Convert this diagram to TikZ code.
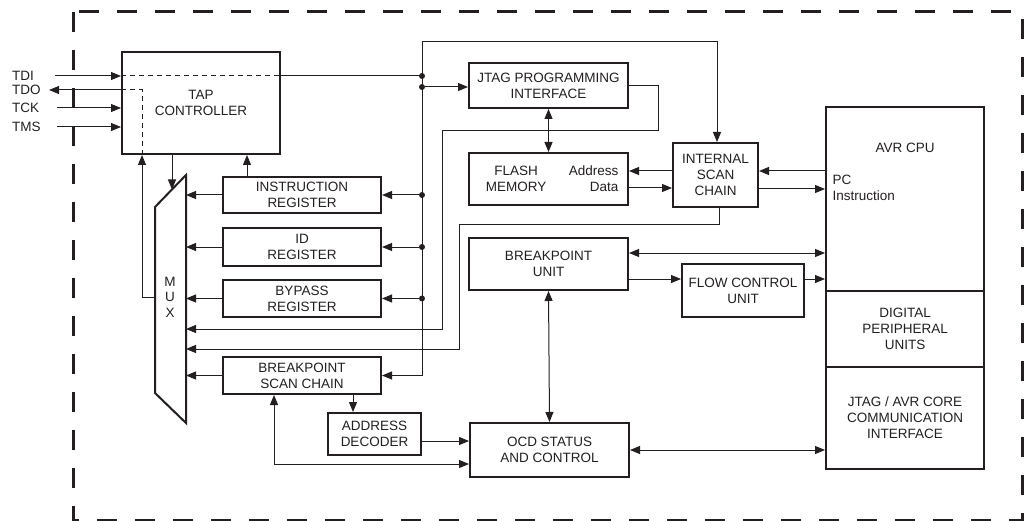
\documentclass[tikz,border=0pt]{standalone}
\usepackage{fontspec}
\setmainfont{Liberation Sans}
\usepackage{tikz}
\usetikzlibrary{arrows.meta,calc}
\usepackage{xcolor}
\definecolor{ink}{HTML}{231F20}

\begin{document}
\begin{tikzpicture}[x=1pt, y=1pt, color=ink, font=\fontsize{13.5}{16}\selectfont,
  blockbox/.style={draw=ink, line width=2pt, align=center, inner sep=0pt},
  wire/.style={draw=ink, line width=1pt},
  arrowend/.style={-{Triangle[length=10pt,width=8pt]}},
  arrowboth/.style={{Triangle[length=10pt,width=8pt]}-{Triangle[length=10pt,width=8pt]}},
  junction/.style={circle, fill=ink, inner sep=0pt, minimum size=6pt},
  pinlabel/.style={anchor=west, inner sep=0pt}]
  \useasboundingbox (0,0) rectangle (1024,-521);
  \draw[line width=3pt, dash pattern=on 20pt off 18pt] (73,-12) rectangle (1022,-520);

  \node[blockbox, minimum width=158, minimum height=102] (tap) at (201,-103) {TAP\\CONTROLLER};
  \node[blockbox, minimum width=158, minimum height=36] (ireg) at (302,-195) {INSTRUCTION\\REGISTER};
  \node[blockbox, minimum width=158, minimum height=38] (idreg) at (302,-247) {ID\\REGISTER};
  \node[blockbox, minimum width=158, minimum height=37] (bypass) at (302,-298.5) {BYPASS\\REGISTER};
  \node[blockbox, minimum width=158, minimum height=37] (bpscan) at (302,-375.5) {BREAKPOINT\\SCAN CHAIN};
  \node[blockbox, minimum width=93, minimum height=42] (addrdec) at (374.5,-434) {ADDRESS\\DECODER};
  \node[blockbox, minimum width=159, minimum height=45] (jtagprog) at (548.5,-85.5) {JTAG PROGRAMMING\\INTERFACE};
  \node[blockbox, minimum width=159, minimum height=52] (flash) at (548.5,-179) {};
  \node[align=center] (flashname) at (516,-179) {FLASH\\MEMORY};
  \node[align=right, anchor=east] (flashport) at (622,-179) {Address\\Data};
  \node[blockbox, minimum width=85, minimum height=64] (intscan) at (715.5,-175) {INTERNAL\\SCAN\\CHAIN};
  \node[blockbox, minimum width=159, minimum height=52] (bpunit) at (548.5,-264) {BREAKPOINT\\UNIT};
  \node[blockbox, minimum width=122, minimum height=53] (flowctl) at (743,-290.5) {FLOW CONTROL\\UNIT};
  \node[blockbox, minimum width=159, minimum height=54] (ocd) at (549.5,-450) {OCD STATUS\\AND CONTROL};
  \node[blockbox, minimum width=158, minimum height=184] (cpu) at (905,-199) {};
  \node (cpuname) at (905,-148) {AVR CPU};
  \node[align=left, anchor=west] (cpuport) at (829,-187.5) {PC\\Instruction};
  \node[blockbox, minimum width=158, minimum height=76] (periph) at (905,-329) {DIGITAL\\PERIPHERAL\\UNITS};
  \node[blockbox, minimum width=158, minimum height=102] (comm) at (905,-418) {JTAG / AVR CORE\\COMMUNICATION\\INTERFACE};

  \coordinate (mux-ne) at (186,-175);
  \coordinate (mux-nw) at (155,-207);
  \coordinate (mux-sw) at (155,-393);
  \coordinate (mux-se) at (186,-423);
  \draw[line width=2pt] (mux-ne) -- (mux-nw) -- (mux-sw) -- (mux-se) -- cycle;
  \node[align=center, font=\fontsize{13.5}{15.5}\selectfont] (muxname) at (170,-297) {M\\U\\X};

  \node[pinlabel] (tdi) at (12,-76) {TDI};
  \node[pinlabel] (tdo) at (12,-90) {TDO};
  \node[pinlabel] (tck) at (12,-108) {TCK};
  \node[pinlabel] (tms) at (12,-127) {TMS};
  \coordinate (tdiin) at (55,-76);
  \coordinate (tdoout) at (49,-90);
  \coordinate (tdoint) at (142,-90);
  \coordinate (tckin) at (57,-108);
  \coordinate (tmsin) at (57,-127);
  \coordinate (bus) at (422,-42);
  \coordinate (muxin) at (172,-189.5);
  \coordinate (muxout) at (155,-297);

  \draw[wire, arrowend] (tdiin) -- (tdiin -| tap.west);
  \draw[wire, dash pattern=on 5pt off 4pt] (tdiin -| tap.west) -- (tdiin -| tap.east);
  \draw[wire] (tdiin -| tap.east) -- (tdiin -| bus);
  \draw[wire, dash pattern=on 5pt off 4pt] (tdoint |- tap.south) -- (tdoint) -- (tdoint -| tap.west);
  \draw[wire, arrowend] (tdoint -| tap.west) -- (tdoout);
  \draw[wire, arrowend] (tckin) -- (tckin -| tap.west);
  \draw[wire, arrowend] (tmsin) -- (tmsin -| tap.west);

  \draw[wire, arrowend] (muxout) -| (tdoint |- tap.south);
  \draw[wire, arrowend] (muxin |- tap.south) -- (muxin);
  \draw[wire, arrowend] ([xshift=-55]ireg.north) -- ([xshift=-55]ireg.north |- tap.south);
  \foreach \r in {ireg,idreg,bypass,bpscan}
    \draw[wire, arrowend] (\r.west) -- (\r.west -| mux-ne);

  \draw[wire, arrowend] (bus) -| ([xshift=1.5]intscan.north);
  \draw[wire, arrowend] (bus) |- (bpscan.east);
  \node[junction] (jtdi) at (tdiin -| bus) {};
  \node[junction] (jprog) at (bus |- 0,-87) {};
  \draw[wire, arrowend] (jprog) -- (jprog -| jtagprog.west);
  \foreach \r/\j in {ireg/jireg, idreg/jid, bypass/jbyp} {
    \node[junction] (\j) at (\r.east -| bus) {};
    \draw[wire, arrowend] (\j) -- (\r.east);
  }

  \draw[wire, arrowend] (jtagprog.east) -| (658,-131) -| (442,-329) -- (mux-ne |- 0,-329);
  \draw[wire, arrowend] ([xshift=3.5]intscan.south) |- (459,-225) |- (mux-ne |- 0,-349);

  \draw[wire, arrowboth] (jtagprog.south) -- (flash.north);
  \draw[wire, arrowend] ([yshift=4]intscan.west) -- ([yshift=4]intscan.west -| flash.east);
  \draw[wire, arrowend] ([yshift=-9]flash.east) -- ([yshift=-9]flash.east -| intscan.west);
  \draw[wire, arrowend] ([yshift=28]cpu.west) -- ([yshift=28]cpu.west -| intscan.east);
  \draw[wire, arrowend] ([yshift=-14]intscan.east) -- ([yshift=-14]intscan.east -| cpu.west);

  \draw[wire, arrowboth] ([yshift=11]bpunit.east) -- ([yshift=11]bpunit.east -| cpu.west);
  \draw[wire, arrowend] ([yshift=-15]bpunit.east) -- ([yshift=-15]bpunit.east -| flowctl.west);
  \draw[wire, arrowend] ([yshift=11.5]flowctl.east) -- ([yshift=11.5]flowctl.east -| cpu.west);
  \draw[wire, arrowboth] (bpunit.south) -- (ocd.north);
  \draw[wire, arrowboth] (ocd.east) -- (ocd.east -| comm.west);

  \draw[wire, arrowend] ([xshift=51]bpscan.south) -- ([xshift=51]bpscan.south |- addrdec.north);
  \draw[wire, arrowend] ([yshift=-7]addrdec.east) -- ([yshift=-7]addrdec.east -| ocd.west);
  \draw[wire, arrowboth] ([xshift=-28]bpscan.south) |- ([yshift=-14]ocd.west);
\end{tikzpicture}
\end{document}
